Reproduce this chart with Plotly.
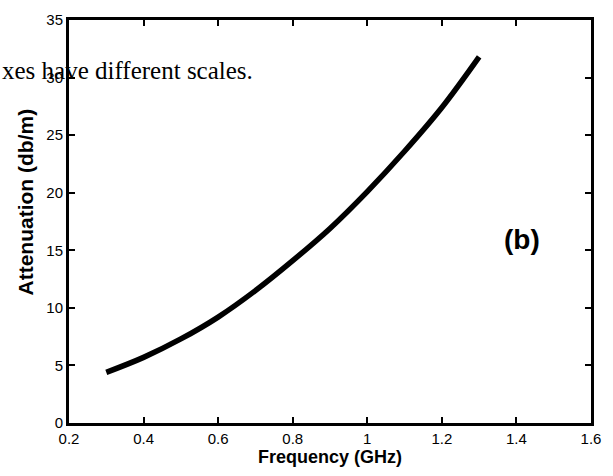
import plotly.graph_objects as go

freq_ghz = [0.3, 0.4, 0.5, 0.6, 0.7, 0.8, 0.9, 1.0, 1.1, 1.2, 1.3]
atten_db_m = [4.4, 5.7, 7.3, 9.2, 11.5, 14.1, 16.9, 20.1, 23.6, 27.4, 31.8]

x_ticks = [0.2, 0.4, 0.6, 0.8, 1.0, 1.2, 1.4, 1.6]
x_tick_text = ["0.2", "0.4", "0.6", "0.8", "1", "1.2", "1.4", "1.6"]
y_ticks = [0, 5, 10, 15, 20, 25, 30, 35]

W, H = 613, 476
ML, MR, MT, MB = 69, 22, 11, 52
PW, PH = W - ML - MR, H - MT - MB

fig = go.Figure()
fig.add_trace(go.Scatter(
    x=freq_ghz, y=atten_db_m, mode="lines",
    line=dict(color="black", width=5.5, shape="spline"),
    showlegend=False, hoverinfo="skip",
))

axis_common = dict(
    showline=True, linecolor="black", linewidth=3, mirror="ticks",
    ticks="inside", ticklen=6, tickwidth=1.5, tickcolor="black",
    showgrid=False, zeroline=False,
    tickfont=dict(family="Liberation Sans, Arial", size=15, color="black"),
)

fig.update_layout(
    width=W, height=H,
    margin=dict(l=ML, r=MR, t=MT, b=MB),
    paper_bgcolor="white", plot_bgcolor="white",
    xaxis=dict(
        range=[0.2, 1.6], tickvals=x_ticks, ticktext=x_tick_text,
        title=dict(text="<b>Frequency (GHz)</b>", standoff=5,
                   font=dict(family="Liberation Sans, Arial", size=18, color="black")),
        **axis_common,
    ),
    yaxis=dict(range=[0, 35], tickvals=y_ticks, **axis_common),
    annotations=[
        dict(x=(25 - ML) / PW, y=(H - MB - 198) / PH, xref="paper", yref="paper",
             text="<b>Attenuation (db/m)</b>", textangle=-90, showarrow=False,
             xanchor="center", yanchor="middle",
             font=dict(family="Liberation Sans, Arial", size=21, color="black")),
        dict(x=1.415, y=15.9, xref="x", yref="y", text="<b>(b)</b>", showarrow=False,
             font=dict(family="Liberation Sans, Arial", size=28, color="black")),
        dict(x=(0 - ML) / PW, y=(H - MB - 63) / PH, xref="paper", yref="paper",
             text="xes have different scales.",
             showarrow=False, xanchor="left", yanchor="middle",
             font=dict(family="Liberation Serif, Times New Roman", size=25, color="black")),
    ],
)
fig.write_html("out.html")
